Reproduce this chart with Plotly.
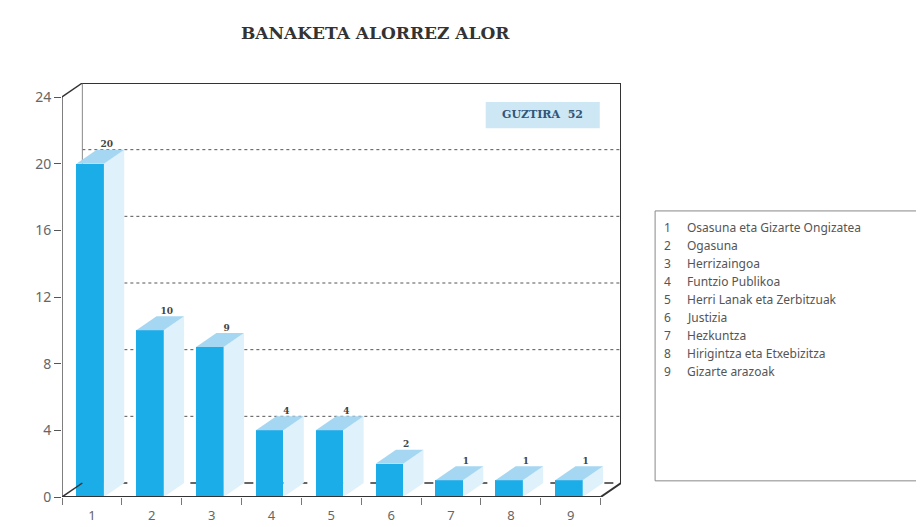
import plotly.graph_objects as go

# data
categories = [1, 2, 3, 4, 5, 6, 7, 8, 9]
values = [20, 10, 9, 4, 4, 2, 1, 1, 1]
y_ticks = [0, 4, 8, 12, 16, 20, 24]
legend_names = [
    "Osasuna eta Gizarte Ongizatea",
    "Ogasuna",
    "Herrizaingoa",
    "Funtzio Publikoa",
    "Herri Lanak eta Zerbitzuak",
    "Justizia",
    "Hezkuntza",
    "Hirigintza eta Etxebizitza",
    "Gizarte arazoak",
]
total_label = "GUZTIRA  52"
title = "BANAKETA ALORREZ ALOR"

# depth of the fake 3d box, in axis units
DX = 0.34
DY = 0.84
BAR_W = 0.46
BAR_SHIFT = -0.03
X0, X1 = 0.5, 9.5
YMAX = 24

front = "#1aade8"
top_col = "#a6d7f2"
side_col = "#dff1fa"
frame = "#333333"
grey_txt = "#666666"

fig = go.Figure()

# bar front faces
fig.add_trace(go.Bar(
    x=[c + BAR_SHIFT for c in categories], y=values, width=BAR_W,
    marker=dict(color=front, line=dict(width=0)), hoverinfo="skip", showlegend=False))

# side and top faces of every bar
for c, v in zip(categories, values):
    l = c + BAR_SHIFT - BAR_W / 2
    r = c + BAR_SHIFT + BAR_W / 2
    fig.add_trace(go.Scatter(
        x=[r, r, r + DX, r + DX, r], y=[0, v, v + DY, DY, 0],
        fill="toself", fillcolor=side_col, mode="lines", line=dict(width=0),
        hoverinfo="skip", showlegend=False))
    fig.add_trace(go.Scatter(
        x=[l, r, r + DX, l + DX, l], y=[v, v, v + DY, v + DY, v],
        fill="toself", fillcolor=top_col, mode="lines", line=dict(width=0),
        hoverinfo="skip", showlegend=False))

# value labels above the bars
fig.add_trace(go.Scatter(
    x=[c + BAR_SHIFT + 0.28 for c in categories], y=[v + DY for v in values],
    mode="text", text=["<b>%d</b>" % v for v in values], textposition="top center",
    textfont=dict(family="DejaVu Serif", size=9, color="#444444"),
    hoverinfo="skip", showlegend=False))

shapes = []
# dotted grid on the back wall
for t in y_ticks[1:-1]:
    shapes.append(dict(type="line", layer="below", x0=X0 + DX, x1=X1 + DX, y0=t + DY, y1=t + DY,
                       line=dict(color="#555555", width=1, dash="dot")))
# back floor line
shapes.append(dict(type="line", layer="below", x0=X0 + DX, x1=X1 + DX, y0=DY, y1=DY,
                   line=dict(color=frame, width=1.5, dash="dash")))
# back wall left edge
shapes.append(dict(type="line", layer="below", x0=X0 + DX, x1=X0 + DX, y0=DY, y1=YMAX + DY,
                   line=dict(color="#888888", width=1)))
# back wall top and right edge
shapes.append(dict(type="line", layer="below", x0=X0 + DX, x1=X1 + DX, y0=YMAX + DY, y1=YMAX + DY,
                   line=dict(color=frame, width=2)))
shapes.append(dict(type="line", layer="below", x0=X1 + DX, x1=X1 + DX, y0=DY, y1=YMAX + DY,
                   line=dict(color=frame, width=2)))
# front axis, floor and diagonals
shapes.append(dict(type="line", x0=X0, x1=X0, y0=0, y1=YMAX, line=dict(color="#555555", width=1.5)))
shapes.append(dict(type="line", x0=X0, x1=X1, y0=0, y1=0, line=dict(color=frame, width=2)))
shapes.append(dict(type="line", x0=X0, x1=X0 + DX, y0=YMAX, y1=YMAX + DY, line=dict(color=frame, width=1.5)))
shapes.append(dict(type="line", x0=X0, x1=X0 + DX, y0=0, y1=DY, line=dict(color=frame, width=1.5)))
shapes.append(dict(type="line", x0=X1, x1=X1 + DX, y0=0, y1=DY, line=dict(color=frame, width=2)))

# total box and legend box
shapes.append(dict(type="rect", xref="paper", yref="paper", x0=0.758, x1=0.962, y0=0.891, y1=0.954,
                   fillcolor="#cde7f5", line=dict(width=0)))
shapes.append(dict(type="rect", xref="paper", yref="paper", x0=1.061, x1=1.7, y0=0.039, y1=0.691,
                   line=dict(color="#888888", width=1)))

annotations = [
    dict(text="<b>" + title + "</b>", xref="paper", yref="paper", x=0.56, y=1.121, showarrow=False,
         font=dict(family="DejaVu Serif", size=17, color="#333333"), xanchor="center", yanchor="middle"),
    dict(text="<b>" + total_label + "</b>", xref="paper", yref="paper", x=0.86, y=0.923, showarrow=False,
         font=dict(family="DejaVu Serif", size=11, color="#335577"), xanchor="center", yanchor="middle"),
]
for i, name in enumerate(legend_names):
    yy = 0.650 - i * 0.0435
    annotations.append(dict(text=str(i + 1), xref="paper", yref="paper", x=1.084, y=yy,
                            showarrow=False, xanchor="center", yanchor="middle",
                            font=dict(family="Noto Sans", size=12, color="#555555")))
    annotations.append(dict(text=name, xref="paper", yref="paper", x=1.1145, y=yy,
                            showarrow=False, xanchor="left", yanchor="middle",
                            font=dict(family="Noto Sans", size=12, color="#555555")))

fig.update_layout(
    width=924, height=527,
    margin=dict(l=54, r=311, t=75, b=38, autoexpand=False),
    paper_bgcolor="white", plot_bgcolor="rgba(0,0,0,0)",
    shapes=shapes, annotations=annotations,
    bargap=0,
    xaxis=dict(range=[X0, X1 + DX], tickvals=categories, ticks="", showgrid=False,
               zeroline=False, showline=False, ticklabelstandoff=9, automargin=False,
               tickfont=dict(family="Noto Sans", size=13, color=grey_txt),
               minor=dict(tickvals=[c - 0.5 for c in categories] + [X1], ticks="outside",
                          ticklen=7, tickcolor="#777777", showgrid=False)),
    yaxis=dict(range=[0, YMAX + DY], tickvals=y_ticks, ticks="outside", ticklen=7,
               tickcolor="#555555", showgrid=False, zeroline=False, showline=False,
               automargin=False,
               tickfont=dict(family="Noto Sans", size=14, color=grey_txt)),
)

fig.write_html("out.html")
